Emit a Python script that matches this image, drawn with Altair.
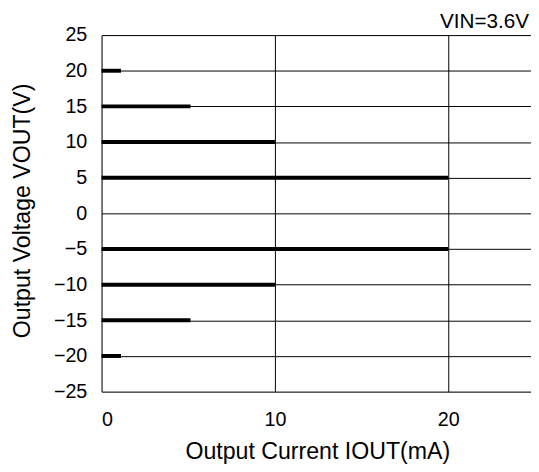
import altair as alt
import pandas as pd

# Output voltage levels and the current range each line spans (mA)
vout = [20, 15, 10, 5, -5, -10, -15, -20]
iout_start = [0, 0, 0, 0, 0, 0, 0, 0]
iout_end = [1.12, 5.13, 10, 20, 20, 10, 5.13, 1.12]

x_ticks = [0, 10, 20]
y_ticks = [-25, -20, -15, -10, -5, 0, 5, 10, 15, 20, 25]

condition_label = ["VIN=3.6V"]

df = pd.DataFrame({"vout": vout, "start": iout_start, "end": iout_end})
df_label = pd.DataFrame({"label": condition_label})

FONT = "Liberation Sans"

lines = (
    alt.Chart(df)
    .mark_rule(color="black", strokeWidth=4, strokeCap="butt")
    .encode(
        x=alt.X(
            "start:Q",
            scale=alt.Scale(domain=[0, 24.77], nice=False, zero=False),
            axis=alt.Axis(
                values=x_ticks,
                title="Output Current IOUT(mA)",
                grid=True,
                gridColor="black",
                gridWidth=1,
                gridOpacity=1,
                domain=False,
                ticks=False,
                labelPadding=18,
                labelFontSize=20,
                labelFont=FONT,
                labelColor="black",
                titleFont=FONT,
                titleFontSize=23.5,
                titleFontWeight="normal",
                titleColor="black",
                titlePadding=11,
                titleX=219,
            ),
        ),
        x2="end:Q",
        y=alt.Y(
            "vout:Q",
            scale=alt.Scale(domain=[-25, 25], nice=False, zero=False),
            axis=alt.Axis(
                values=y_ticks,
                title="Output Voltage VOUT(V)",
                grid=True,
                gridColor="black",
                gridWidth=1,
                gridOpacity=1,
                domain=False,
                ticks=False,
                labelPadding=15,
                labelFontSize=20,
                labelFont=FONT,
                labelColor="black",
                labelExpr="datum.value < 0 ? '\u2212' + abs(datum.value) : datum.label",
                titleFont=FONT,
                titleFontSize=23.5,
                titleFontWeight="normal",
                titleColor="black",
                titlePadding=19,
                titleY=178,
            ),
        ),
    )
)

label = (
    alt.Chart(df_label)
    .mark_text(
        font=FONT,
        fontSize=21,
        color="black",
        align="right",
        baseline="alphabetic",
    )
    .encode(
        text="label:N",
        x=alt.value(434),
        y=alt.value(-7),
    )
)

chart = (
    alt.layer(lines, label)
    .properties(
        width=436,
        height=362,
        autosize="none",
        padding={"left": 95, "top": 24, "right": 0, "bottom": 72},
    )
    .configure_view(stroke=None)
    .configure(background="white")
)

chart.save("out.html", embed_options={"renderer": "svg", "actions": False})
